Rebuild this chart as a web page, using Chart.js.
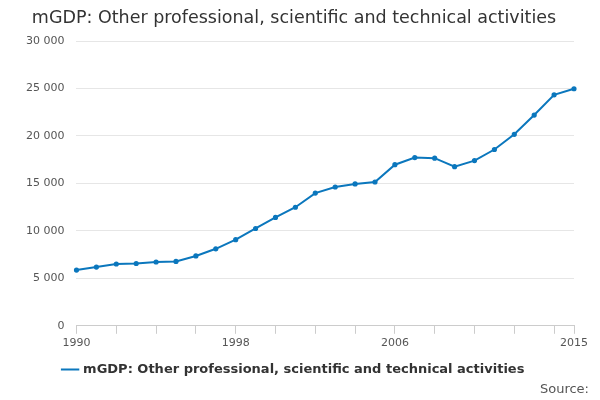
<!DOCTYPE html>
<html>
<head>
<script src="https://cdn.jsdelivr.net/npm/chart.js@4"></script>
<style>
body{margin:0;font-family:"DejaVu Sans",sans-serif;}
#wrap{position:relative;width:600px;height:400px;}
#src{position:absolute;right:11px;top:381px;font-size:13px;color:#555;}
</style>
</head>
<body>
<div id="wrap"><canvas id="c" width="600" height="400"></canvas><div id="src">Source:</div></div>
<script>
const years = [];
for (let y = 1990; y <= 2015; y++) years.push(String(y));
const values = [5870,6190,6510,6560,6720,6780,7360,8110,9070,10250,11420,12490,13980,14620,14940,15150,16970,17720,17660,16760,17400,18570,20170,22200,24330,24970];
const shownLabels = ['1990','1998','2006','2015'];
const seriesName = 'mGDP: Other professional, scientific and technical activities';

new Chart(document.getElementById('c'), {
  type: 'line',
  data: {
    labels: years,
    datasets: [{
      label: seriesName,
      data: values,
      borderColor: '#0b77bd',
      backgroundColor: '#0b77bd',
      borderWidth: 2,
      pointRadius: 1.6,
      pointHoverRadius: 3,
      tension: 0
    }]
  },
  options: {
    responsive: false,
    animation: false,
    layout: { padding: { left: 14, right: 26, bottom: 14 } },
    plugins: {
      title: {
        display: true, text: seriesName, color: '#333',
        font: { family: 'DejaVu Sans', size: 17.5, weight: 'normal' },
        padding: { top: 8, bottom: 12 }
      },
      legend: {
        position: 'bottom',
        labels: {
          usePointStyle: true, pointStyle: 'line', boxWidth: 30,
          color: '#333', font: { family: 'DejaVu Sans', size: 13, weight: 'bold' }
        }
      }
    },
    scales: {
      x: {
        offset: false,
        border: { color: '#ccc' },
        grid: {
          drawOnChartArea: false, tickLength: 8,
          color: (ctx) => (ctx.index % 2 === 0 || ctx.index === years.length - 1) ? '#ccc' : 'rgba(0,0,0,0)'
        },
        ticks: {
          autoSkip: false, maxRotation: 0, color: '#555',
          font: { family: 'DejaVu Sans', size: 11 },
          callback: function (v) { const l = this.getLabelForValue(v); return shownLabels.includes(l) ? l : ''; }
        }
      },
      y: {
        min: 0, max: 30000,
        border: { display: false },
        grid: { color: '#e6e6e6', drawTicks: false },
        ticks: {
          stepSize: 5000, padding: 12, color: '#555',
          font: { family: 'DejaVu Sans', size: 11 },
          callback: (v) => v.toLocaleString('en-US').replace(/,/g, ' ')
        }
      }
    }
  }
});
</script>
</body>
</html>
